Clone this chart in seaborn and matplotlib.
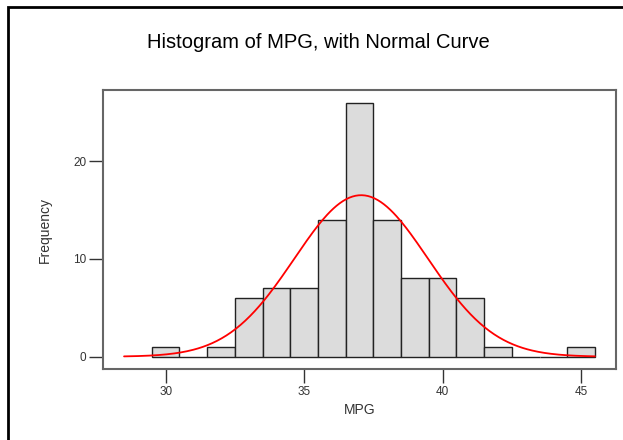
import numpy as np
import pandas as pd
import matplotlib
matplotlib.use("Agg")
import matplotlib.pyplot as plt
import seaborn as sns
from matplotlib.patches import Rectangle

# Klassenmitten (MPG) und Haeufigkeiten
mpg_mitte = [30, 31, 32, 33, 34, 35, 36, 37, 38, 39, 40, 41, 42, 43, 44, 45]
haeufigkeit = [1, 0, 1, 6, 7, 7, 14, 26, 14, 8, 8, 6, 1, 0, 0, 1]

# Parameter der Normalkurve (Gipfel ~16.5 bei ~37)
mittelwert = 37.06
std_abw = 2.415
n_gesamt = sum(haeufigkeit)

x_ticks = [30, 35, 40, 45]
y_ticks = [0, 10, 20]

df = pd.DataFrame({"MPG": mpg_mitte, "Frequency": haeufigkeit})

sns.set_theme(style="white")
plt.rcParams["font.family"] = ["Liberation Sans", "DejaVu Sans"]

fig = plt.figure(figsize=(6.23, 4.4), dpi=100)
ax = fig.add_axes([103 / 623, 1 - 369 / 440, (616 - 103) / 623, (369 - 90) / 440])

sns.histplot(data=df, x="MPG", weights="Frequency", binwidth=1, binrange=(29.5, 45.5),
             color="#dcdcdc", alpha=1, edgecolor="#222222", linewidth=1, ax=ax)

# Normalkurve, skaliert auf Klassenbreite 1
xs = np.linspace(28.5, 45.5, 300)
ys = n_gesamt / (std_abw * np.sqrt(2 * np.pi)) * np.exp(-0.5 * ((xs - mittelwert) / std_abw) ** 2)
sns.lineplot(x=xs, y=ys, color="red", linewidth=1.3, ax=ax)

ax.set_xlim(27.74, 46.26)
ax.set_ylim(-1.26, 27.28)
ax.set_xticks(x_ticks)
ax.set_yticks(y_ticks)
ax.tick_params(axis="both", direction="out", length=10, width=1, color="#333333",
               labelsize=8.5, labelcolor="#333333", bottom=True, left=True, pad=2)
for s in ax.spines.values():
    s.set_color("#666666")
    s.set_linewidth(1.5)

ax.set_xlabel("MPG", fontsize=10, color="#333333", labelpad=4)
ax.set_ylabel("Frequency", fontsize=10, color="#333333", labelpad=15)
fig.suptitle("Histogram of MPG, with Normal Curve", fontsize=14.5, color="black",
             x=318.5 / 623, y=1 - 43 / 440, va="center")

# Aeusserer Rahmen (nur links und oben sichtbar)
fig.patches.append(Rectangle((8 / 623, -0.1), 1.2, 1.1 - 7 / 440, transform=fig.transFigure,
                             fill=False, edgecolor="black", linewidth=2, clip_on=False))

fig.savefig("out.png", dpi=100)
